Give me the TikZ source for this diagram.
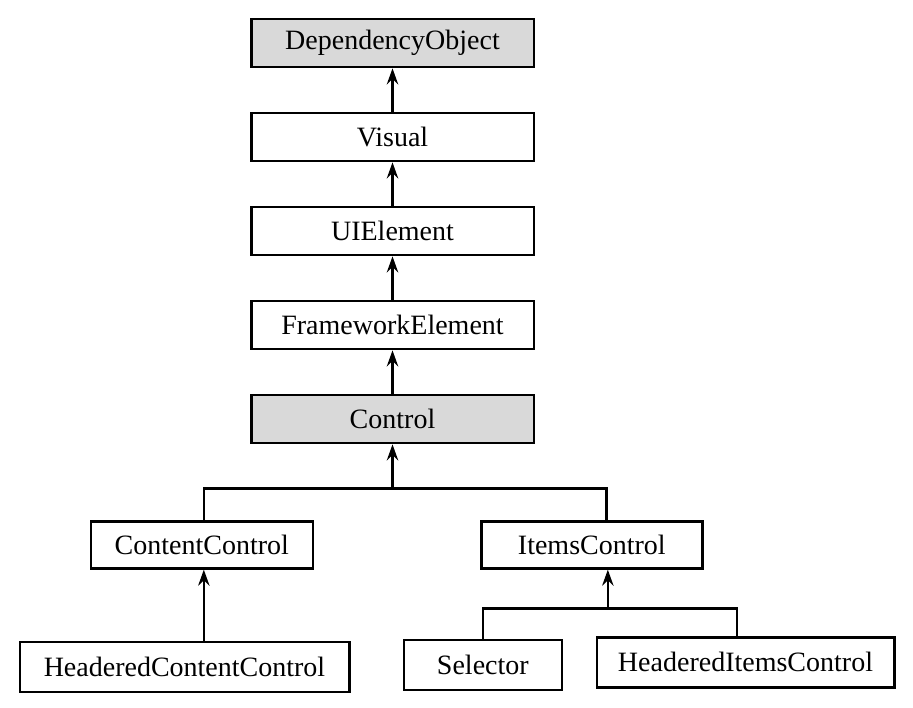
\documentclass[tikz,border=0pt]{standalone}
\usepackage{fontspec}
\setmainfont{Liberation Serif}
\usetikzlibrary{shapes.geometric, arrows, arrows.meta, positioning}
\tikzstyle{cls} = [rectangle, minimum width=212pt, minimum height=36pt, text centered, draw=black, line width=2pt, fill=white, font=\fontsize{21}{24}\selectfont]
\tikzstyle{gcls} = [cls, fill=gray!30]
\tikzstyle{arrow} = [line width=1.9pt,->,>={Stealth[length=12pt,width=8.5pt,inset=4pt]}]
\tikzstyle{branch} = [line width=1.9pt]

\begin{document}
\begin{tikzpicture}[x=0.75pt, y=0.75pt, node distance=70.5pt]
\useasboundingbox (0,0) rectangle (913,-707);

\node (dobj) [gcls] at (392.5,-43) {DependencyObject};
\node (visual) [cls, below of=dobj] {Visual};
\node (uielem) [cls, below of=visual] {UIElement};
\node (fwelem) [cls, below of=uielem] {FrameworkElement};
\node (control) [gcls, below of=fwelem] {Control};

\node (cc) [cls, minimum width=166.5pt, minimum height=35pt, node distance=94.5pt, below of=control, xshift=-143pt] {ContentControl};
\node (items) [cls, minimum width=166pt, minimum height=35pt, node distance=94.5pt, below of=control, xshift=149.5pt] {ItemsControl};

\node (hcc) [cls, minimum width=247pt, minimum height=37.5pt, node distance=91.5pt, below of=cc, xshift=-13pt] {HeaderedContentControl};
\node (sel) [cls, minimum width=118.5pt, minimum height=37.5pt, node distance=90pt, below of=items, xshift=-81.75pt] {Selector};
\node (hic) [cls, minimum width=223pt, minimum height=37.5pt, node distance=197pt, right of=sel, yshift=2pt] {HeaderedItemsControl};

\path (control.south) ++(0,-44) coordinate (cjoin);
\path ([xshift=12pt]items.south) ++(0,-39) coordinate (ijoin);
\coordinate (ccx) at ([xshift=1.5pt]cc.south);

\draw [arrow] (visual) -- (dobj);
\draw [arrow] (uielem) -- (visual);
\draw [arrow] (fwelem) -- (uielem);
\draw [arrow] (control) -- (fwelem);

\draw [arrow] (cjoin) -- (control);
\draw [branch] ([xshift=1.5pt]cc.north) |- (cjoin) -| ([xshift=11pt]items.north);

\draw [arrow] (hcc.north -| ccx) -- (ccx);

\draw [arrow] (ijoin) -- (ijoin |- items.south);
\draw [branch] (sel.north) |- (ijoin) -| ([xshift=-6.4pt]hic.north);

\end{tikzpicture}
\end{document}
